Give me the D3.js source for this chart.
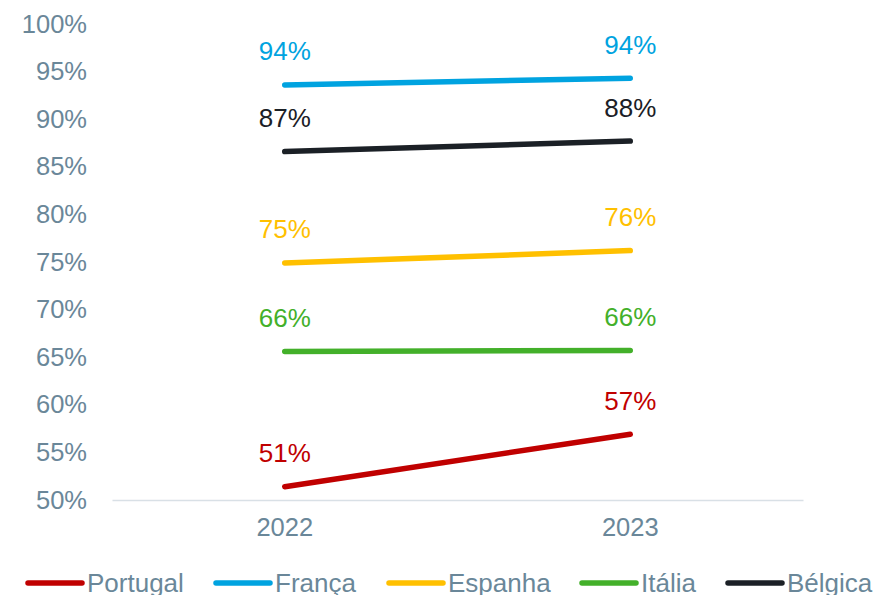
<!DOCTYPE html>
<html>
<head>
<meta charset="utf-8">
<script src="https://cdn.jsdelivr.net/npm/d3@7"></script>
<style>
  body { margin: 0; background: #fff; }
  svg { display: block; font-family: Arial, "Liberation Sans", sans-serif; }
</style>
</head>
<body>
<div id="chart"></div>
<script>
const years = ['2022', '2023'];
const countries = ['Portugal', 'França', 'Espanha', 'Itália', 'Bélgica'];
const portugal = [0.514, 0.569];
const franca = [0.936, 0.943];
const espanha = [0.749, 0.762];
const italia = [0.656, 0.657];
const belgica = [0.866, 0.877];
const yTicks = [0.5, 0.55, 0.6, 0.65, 0.7, 0.75, 0.8, 0.85, 0.9, 0.95, 1];

const colors = ['#c00000', '#00a3e0', '#ffc000', '#43b02a', '#1b2026'];
const series = [portugal, franca, espanha, italia, belgica].map((values, i) => ({
  name: countries[i],
  color: colors[i],
  values: values.map((v, j) => ({ year: years[j], value: v }))
}));

const width = 877, height = 595;
const axisColor = '#6a8799';

const svg = d3.select('#chart')
  .append('svg')
  .attr('width', width)
  .attr('height', height);

const x = d3.scaleBand()
  .domain(years)
  .range([112, 803]);

const y = d3.scaleLinear()
  .domain([0.5, 1])
  .range([500, 24]);

const fmt = d3.format('.0%');

// y axis labels
const yAxis = svg.append('g')
  .attr('transform', 'translate(100,0)')
  .call(d3.axisLeft(y).tickValues(yTicks).tickFormat(fmt).tickSize(0).tickPadding(13));
yAxis.select('.domain').remove();
yAxis.selectAll('text')
  .attr('fill', axisColor)
  .style('font-size', '25.5px')
  .style('font-family', 'Arial, "Liberation Sans", sans-serif');

// x axis
const xAxis = svg.append('g')
  .attr('transform', 'translate(0,500)')
  .call(d3.axisBottom(x).tickSize(0).tickPadding(18));
xAxis.select('.domain').attr('stroke', '#d9e0e6').attr('stroke-width', 1.5);
xAxis.selectAll('text')
  .attr('fill', axisColor)
  .style('font-size', '25.5px')
  .style('font-family', 'Arial, "Liberation Sans", sans-serif');

const cx = d => x(d.year) + x.bandwidth() / 2;

const line = d3.line()
  .x(cx)
  .y(d => y(d.value));

const groups = svg.append('g')
  .selectAll('g')
  .data(series)
  .join('g');

groups.append('path')
  .attr('d', d => line(d.values))
  .attr('fill', 'none')
  .attr('stroke', d => d.color)
  .attr('stroke-width', 5.5)
  .attr('stroke-linecap', 'round');

groups.selectAll('text')
  .data(d => d.values.map(v => ({ ...v, color: d.color })))
  .join('text')
  .attr('x', cx)
  .attr('y', d => y(d.value) - 24.5)
  .attr('text-anchor', 'middle')
  .attr('fill', d => d.color)
  .style('font-size', '26px')
  .text(d => fmt(d.value));

// legend
const legendX = [28, 216, 389, 582, 728];
const legend = svg.append('g')
  .selectAll('g')
  .data(series)
  .join('g')
  .attr('transform', (d, i) => `translate(${legendX[i]},583)`);

legend.append('line')
  .attr('x1', 0)
  .attr('x2', 54)
  .attr('stroke', d => d.color)
  .attr('stroke-width', 5.5)
  .attr('stroke-linecap', 'round');

legend.append('text')
  .attr('x', 59)
  .attr('y', 9)
  .attr('fill', axisColor)
  .style('font-size', '26px')
  .text(d => d.name);
</script>
</body>
</html>
